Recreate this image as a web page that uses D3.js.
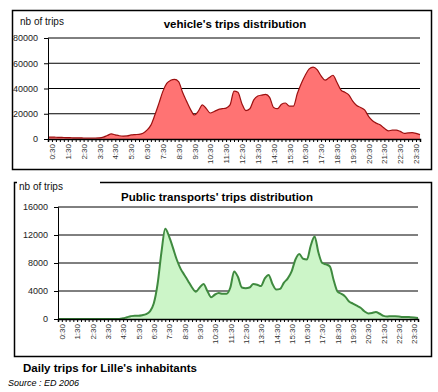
<!DOCTYPE html>
<html>
<head>
<meta charset="utf-8">
<script src="https://cdn.jsdelivr.net/npm/d3@7"></script>
<style>
  body { margin: 0; background: #fff; }
  svg { font-family: "Liberation Sans", Arial, sans-serif; }
</style>
</head>
<body>
<main></main>
<script>
// quarter-hour slots from 0:30 to 24:00
let times = [];
for (let m = 30; m <= 24 * 60; m += 15) {
  times.push(Math.floor(m / 60) + ':' + String(m % 60).padStart(2, '0'));
}

// vehicle trips
let vehicleTrips = [
  1500, 1500, 1400, 1300, 1200, 1100, 1000, 900, 900, 800,
  800, 800, 800, 900, 1500, 2800, 4000, 3300, 2600, 2300,
  2400, 3200, 3500, 3700, 4500, 7000, 11000, 19000, 28000, 37500,
  44000, 46500, 47300, 45500, 37000, 30000, 23500, 19000, 22000, 27000,
  24000, 20600, 21800, 23300, 24000, 24500, 27000, 38000, 37000, 28000,
  22500, 24000, 31000, 34000, 34800, 35400, 33000, 25000, 24000, 27500,
  28500, 26000, 26000, 36000, 44000, 50500, 55500, 57000, 55000, 50000,
  46700, 48500, 50500, 45000, 39000, 37000, 35000, 30000, 26500, 25000,
  23000, 18000, 14500, 12500, 11000, 8500, 6500, 7000, 7000, 6000,
  4500, 4800, 5000, 4500, 3500
];

// public transport trips
let publicTrips = [
  0, 0, 0, 0, 0, 0, 0, 0, 0, 0,
  0, 0, 0, 0, 0, 0, 0, 100, 250, 400,
  480, 480, 550, 700, 1100, 2200, 5000, 9500, 12900, 11800,
  10200, 8500, 7200, 6300, 5400, 4500, 3900, 4500, 5000, 4000,
  3100, 3500, 3700, 3600, 3600, 4500, 6800, 6000, 4500, 4400,
  4500, 5000, 4900, 4700, 5800, 6300, 5000, 4200, 4300, 5200,
  5800, 6800, 8500, 9300, 8600, 8500, 10500, 11800, 9500, 8000,
  7800, 7500, 5500, 3900, 3600, 3200, 2500, 2200, 1900, 1600,
  1100, 800, 850, 1000, 750, 450, 370, 400, 380, 350,
  300, 300, 250, 200, 150
];

let vehicleTicks = [0, 20000, 40000, 60000, 80000];
let publicTicks = [0, 4000, 8000, 12000, 16000];

let width = 438;
let height = 392;

let svg = d3.select('main')
  .append('svg')
  .attr('width', width)
  .attr('height', height);

function drawPanel(opts) {
  let g = svg.append('g');

  let x = d3.scalePoint()
    .domain(times)
    .range([opts.left, opts.right]);

  let y = d3.scaleLinear()
    .domain([0, opts.ticks[opts.ticks.length - 1]])
    .range([opts.bottom, opts.top]);

  // gridlines
  g.selectAll('.grid')
    .data(opts.ticks.slice(1))
    .enter().append('line')
    .attr('x1', opts.left)
    .attr('x2', opts.right)
    .attr('y1', d => y(d))
    .attr('y2', d => y(d))
    .attr('stroke', '#000')
    .attr('stroke-width', 1);

  let data = opts.values.map((v, i) => [times[i], v]);

  let area = d3.area()
    .x(d => x(d[0]))
    .y0(y(0))
    .y1(d => y(d[1]))
    .curve(d3.curveMonotoneX);

  g.append('path')
    .datum(data)
    .attr('d', area)
    .attr('fill', opts.fill);

  let line = d3.line()
    .x(d => x(d[0]))
    .y(d => y(d[1]))
    .curve(d3.curveMonotoneX);

  g.append('path')
    .datum(data)
    .attr('d', line)
    .attr('fill', 'none')
    .attr('stroke', opts.stroke)
    .attr('stroke-width', opts.strokeWidth);

  // y axis
  let yAxis = g.append('g')
    .attr('transform', 'translate(' + opts.left + ',0)')
    .call(d3.axisLeft(y).tickValues(opts.ticks).tickSize(4).tickFormat(d3.format('d')));
  yAxis.select('.domain').attr('stroke', '#000');
  yAxis.selectAll('text')
    .attr('font-size', 9)
    .attr('fill', '#222')
    .attr('dx', -3);

  // x axis, a tick on every slot, a label every hour
  let xAxis = g.append('g')
    .attr('transform', 'translate(0,' + opts.bottom + ')')
    .call(d3.axisBottom(x)
      .tickSize(3)
      .tickFormat((d, i) => (i % 4 === 0 && i < 93) ? d : ''));
  xAxis.select('.domain').attr('stroke', '#000').attr('stroke-width', 1.5);
  xAxis.selectAll('line').attr('stroke', '#000').attr('stroke-width', 1);
  xAxis.selectAll('text')
    .attr('font-size', 8)
    .attr('fill', '#333')
    .attr('transform', 'rotate(-90)')
    .attr('text-anchor', 'end')
    .attr('x', -5)
    .attr('y', 4)
    .attr('dy', '0.32em');

  // titles
  g.append('text')
    .attr('x', opts.unitX)
    .attr('y', opts.unitY)
    .attr('font-size', 10)
    .attr('fill', '#111')
    .text('nb of trips');

  g.append('text')
    .attr('x', opts.titleX)
    .attr('y', opts.titleY)
    .attr('text-anchor', 'middle')
    .attr('font-size', opts.titleSize)
    .attr('font-weight', 'bold')
    .text(opts.title);
}

// frames
svg.append('rect')
  .attr('x', 12.5).attr('y', 10.5)
  .attr('width', 419).attr('height', 159)
  .attr('fill', 'none')
  .attr('stroke', '#000')
  .attr('stroke-width', 1.5);

svg.append('path')
  .attr('d', 'M17,182.5 H14.5 V356.5 H431.5 V182.5 H100')
  .attr('fill', 'none')
  .attr('stroke', '#000')
  .attr('stroke-width', 1.5);

drawPanel({
  values: vehicleTrips,
  ticks: vehicleTicks,
  left: 48, right: 420, top: 38, bottom: 139,
  fill: '#ff7373', stroke: '#9c1010', strokeWidth: 1.2,
  title: "vehicle's trips distribution",
  titleX: 235, titleY: 28, titleSize: 11.5,
  unitX: 20, unitY: 25
});

drawPanel({
  values: publicTrips,
  ticks: publicTicks,
  left: 58, right: 418, top: 207, bottom: 319,
  fill: '#ccf5c8', stroke: '#3f8a3f', strokeWidth: 2,
  title: "Public transports' trips distribution",
  titleX: 217, titleY: 201, titleSize: 11.5,
  unitX: 19, unitY: 190
});

svg.append('text')
  .attr('x', 23)
  .attr('y', 372)
  .attr('font-size', 11.5)
  .attr('font-weight', 'bold')
  .text("Daily trips for Lille's inhabitants");

svg.append('text')
  .attr('x', 8)
  .attr('y', 386)
  .attr('font-size', 9)
  .attr('font-style', 'italic')
  .text('Source : ED 2006');
</script>
</body>
</html>
